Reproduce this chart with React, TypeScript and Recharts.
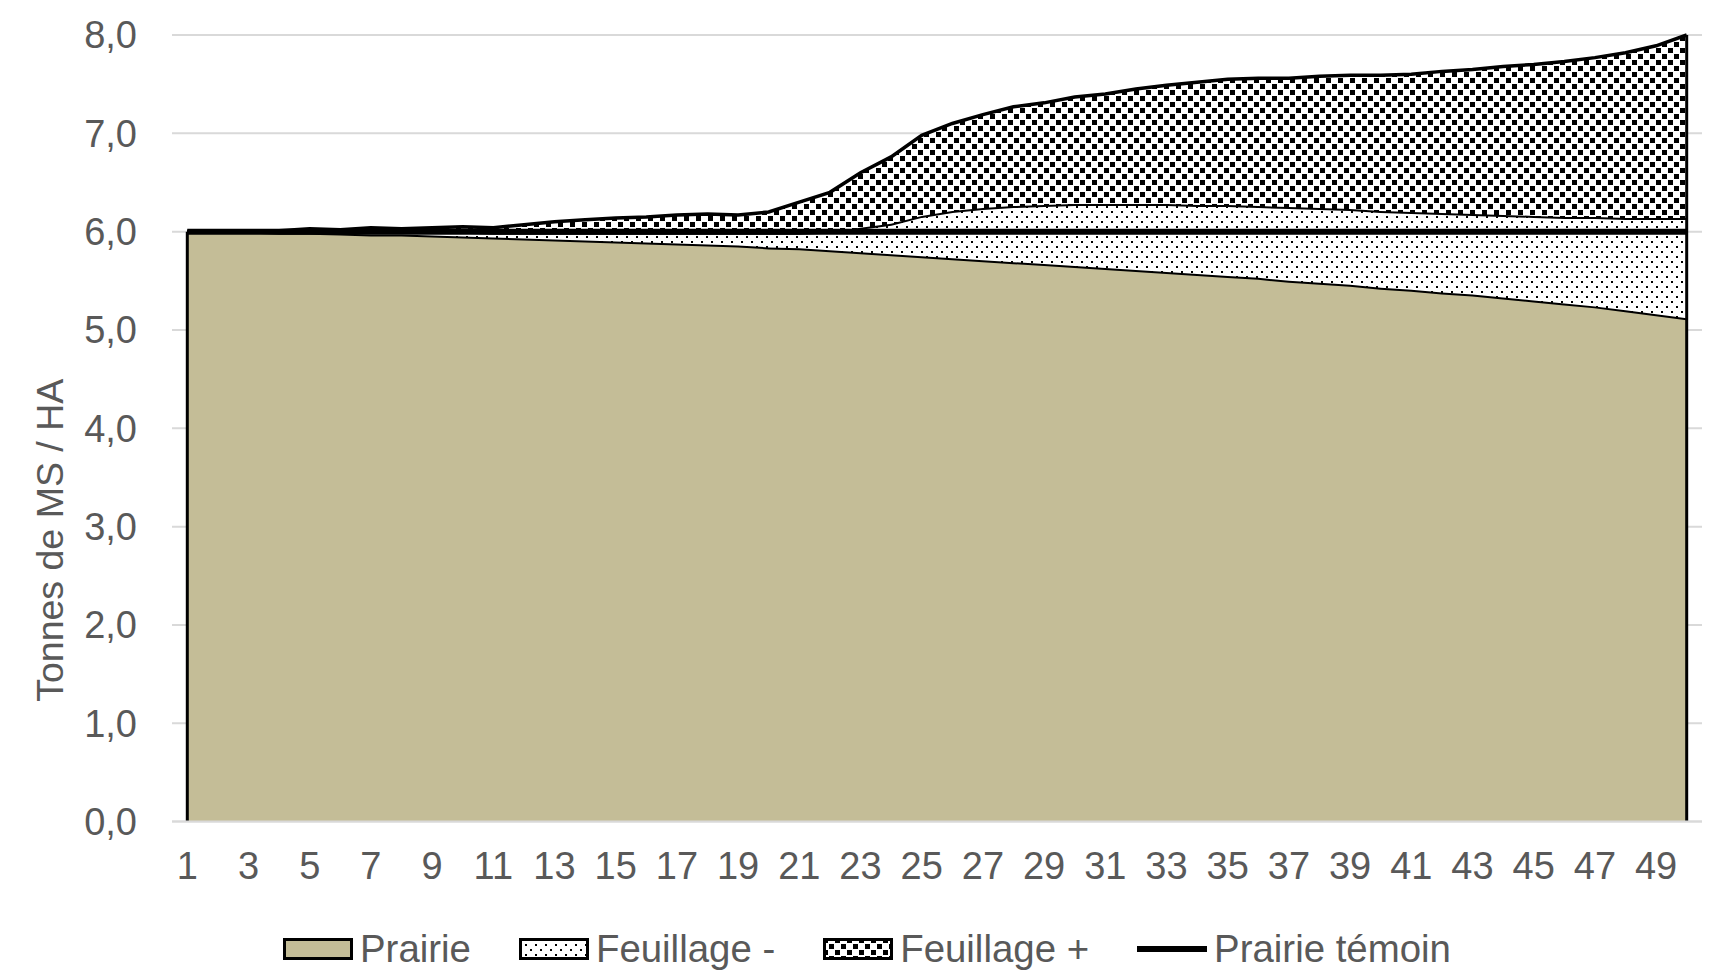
import React from 'react';
import {
    ComposedChart,
    Area,
    Line,
    XAxis,
    YAxis,
    CartesianGrid,
    ReferenceLine
} from 'recharts';

// Jours (catégories de l'axe X)
const jours = [
    1, 2, 3, 4, 5, 6, 7, 8, 9, 10,
    11, 12, 13, 14, 15, 16, 17, 18, 19, 20,
    21, 22, 23, 24, 25, 26, 27, 28, 29, 30,
    31, 32, 33, 34, 35, 36, 37, 38, 39, 40,
    41, 42, 43, 44, 45, 46, 47, 48, 49, 50
];

// Prairie (t MS / ha)
const prairie = [
    6.00, 6.00, 6.00, 5.99, 5.99, 5.98, 5.97, 5.97, 5.96, 5.95,
    5.94, 5.93, 5.92, 5.91, 5.90, 5.89, 5.88, 5.87, 5.86, 5.84,
    5.83, 5.81, 5.79, 5.77, 5.75, 5.73, 5.71, 5.69, 5.67, 5.65,
    5.63, 5.61, 5.59, 5.57, 5.55, 5.53, 5.50, 5.48, 5.46, 5.43,
    5.41, 5.38, 5.36, 5.33, 5.30, 5.27, 5.24, 5.20, 5.16, 5.12
];

// Haut de la couche "Feuillage -" (prairie + feuillage -)
const hautFeuillageMoins = [
    6.00, 6.00, 6.00, 6.00, 6.00, 6.00, 6.00, 6.00, 6.00, 6.00,
    5.99, 5.99, 5.99, 5.99, 5.99, 5.99, 5.99, 5.99, 5.99, 5.99,
    5.99, 6.00, 6.04, 6.08, 6.16, 6.21, 6.24, 6.26, 6.27, 6.28,
    6.28, 6.28, 6.28, 6.27, 6.27, 6.26, 6.25, 6.24, 6.23, 6.21,
    6.20, 6.19, 6.18, 6.17, 6.16, 6.15, 6.15, 6.14, 6.14, 6.14
];

// Haut de la couche "Feuillage +" (total)
const hautFeuillagePlus = [
    6.00, 6.00, 6.00, 6.01, 6.03, 6.02, 6.04, 6.03, 6.04, 6.05,
    6.04, 6.07, 6.10, 6.12, 6.14, 6.15, 6.17, 6.18, 6.17, 6.20,
    6.30, 6.40, 6.60, 6.76, 6.98, 7.10, 7.19, 7.27, 7.31, 7.37,
    7.40, 7.45, 7.49, 7.52, 7.55, 7.56, 7.56, 7.58, 7.59, 7.59,
    7.60, 7.63, 7.65, 7.68, 7.70, 7.73, 7.77, 7.82, 7.89, 8.00
];

// Prairie témoin
const prairieTemoin = [
    6.0, 6.0, 6.0, 6.0, 6.0, 6.0, 6.0, 6.0, 6.0, 6.0,
    6.0, 6.0, 6.0, 6.0, 6.0, 6.0, 6.0, 6.0, 6.0, 6.0,
    6.0, 6.0, 6.0, 6.0, 6.0, 6.0, 6.0, 6.0, 6.0, 6.0,
    6.0, 6.0, 6.0, 6.0, 6.0, 6.0, 6.0, 6.0, 6.0, 6.0,
    6.0, 6.0, 6.0, 6.0, 6.0, 6.0, 6.0, 6.0, 6.0, 6.0
];

const yTicks = [0, 1, 2, 3, 4, 5, 6, 7, 8];

const FONT = '"Liberation Sans", Arial, sans-serif';
const TEXT_COLOR = '#595959';
const TAN = '#C4BD97';

// stacked table: each layer = difference between its top and the one below
const data = jours.map((jour, i) => ({
    jour,
    prairie: prairie[i],
    feuillageMoins: +(hautFeuillageMoins[i] - prairie[i]).toFixed(2),
    feuillagePlus: +(hautFeuillagePlus[i] - hautFeuillageMoins[i]).toFixed(2),
    temoin: prairieTemoin[i]
}));

const legendItems = [
    { nom: 'Prairie', kind: 'prairie' },
    { nom: 'Feuillage -', kind: 'moins' },
    { nom: 'Feuillage +', kind: 'plus' },
    { nom: 'Prairie témoin', kind: 'ligne' }
];

function Patterns({ suffix }: { suffix: string }) {
    return (
        <defs>
            <pattern id={`fin-${suffix}`} width="10" height="10" patternUnits="userSpaceOnUse">
                <rect width="10" height="10" fill="#fff" />
                <rect x="1" y="1" width="2" height="2" fill="#000" />
                <rect x="6" y="6" width="2" height="2" fill="#000" />
            </pattern>
            <pattern id={`carre-${suffix}`} width="12" height="12" patternUnits="userSpaceOnUse">
                <rect width="12" height="12" fill="#fff" />
                <rect x="0" y="0" width="5" height="5" fill="#000" />
                <rect x="6" y="6" width="5" height="5" fill="#000" />
            </pattern>
        </defs>
    );
}

function Swatch({ kind }: { kind: string }) {
    if (kind === 'ligne') {
        return (
            <svg width="70" height="22">
                <line x1="0" y1="11" x2="70" y2="11" stroke="#000" strokeWidth={6} />
            </svg>
        );
    }
    const fill = kind === 'prairie' ? TAN : kind === 'moins' ? 'url(#fin-leg)' : 'url(#carre-leg)';
    return (
        <svg width="70" height="22">
            <Patterns suffix="leg" />
            <rect x="1.5" y="1.5" width="67" height="19" fill={fill} stroke="#000" strokeWidth={3} />
        </svg>
    );
}

const renderYTitle = (props: any) => {
    const vb = props.viewBox || { x: 0, y: 35, width: 172, height: 787 };
    const cx = vb.x + 50;
    const cy = vb.y + vb.height / 2 + 112;
    return (
        <text
            x={cx}
            y={cy}
            transform={`rotate(-90 ${cx} ${cy})`}
            textAnchor="middle"
            dominantBaseline="central"
            fill={TEXT_COLOR}
            fontSize={37.5}
            fontFamily={FONT}
        >
            Tonnes de MS / HA
        </text>
    );
};

export default function App() {
    const last = jours.length - 1;

    return (
        <div style={{ position: 'absolute', left: 0, top: 0, width: 1715, height: 972, overflow: 'hidden', background: '#fff', fontFamily: FONT }}>
            <ComposedChart
                width={1715}
                height={972}
                data={data}
                margin={{ top: 35, right: 13, left: 0, bottom: 90.4 }}
            >
                <Patterns suffix="chart" />
                <CartesianGrid vertical={false} stroke="#D9D9D9" strokeWidth={2} />
                <XAxis
                    dataKey="jour"
                    interval={1}
                    height={60}
                    padding={{ left: 15.3, right: 15.3 }}
                    tickLine={false}
                    tickSize={0}
                    tickMargin={30}
                    axisLine={{ stroke: '#D9D9D9', strokeWidth: 2 }}
                    tick={{ fill: TEXT_COLOR, fontSize: 38, fontFamily: FONT }}
                />
                <YAxis
                    width={172}
                    domain={[0, 8]}
                    ticks={yTicks}
                    axisLine={false}
                    tickLine={false}
                    tickSize={0}
                    tickMargin={35}
                    tickFormatter={(v: number) => v.toFixed(1).replace('.', ',')}
                    tick={{ fill: TEXT_COLOR, fontSize: 38, fontFamily: FONT }}
                    label={renderYTitle}
                />
                <Area
                    type="linear"
                    dataKey="prairie"
                    name="Prairie"
                    stackId="a"
                    fill={TAN}
                    fillOpacity={1}
                    stroke="#000"
                    strokeWidth={4}
                    isAnimationActive={false}
                />
                <Area
                    type="linear"
                    dataKey="feuillageMoins"
                    name="Feuillage -"
                    stackId="a"
                    fill="url(#fin-chart)"
                    fillOpacity={1}
                    stroke="#000"
                    strokeWidth={4}
                    isAnimationActive={false}
                />
                <Area
                    type="linear"
                    dataKey="feuillagePlus"
                    name="Feuillage +"
                    stackId="a"
                    fill="url(#carre-chart)"
                    fillOpacity={1}
                    stroke="#000"
                    strokeWidth={3.5}
                    isAnimationActive={false}
                />
                <ReferenceLine
                    segment={[{ x: jours[0], y: 0 }, { x: jours[0], y: hautFeuillagePlus[0] }]}
                    stroke="#000"
                    strokeWidth={3}
                    ifOverflow="visible"
                />
                <ReferenceLine
                    segment={[{ x: jours[last], y: 0 }, { x: jours[last], y: hautFeuillagePlus[last] }]}
                    stroke="#000"
                    strokeWidth={3}
                    ifOverflow="visible"
                />
                <Line
                    type="linear"
                    dataKey="temoin"
                    name="Prairie témoin"
                    stroke="#000"
                    strokeWidth={6}
                    dot={false}
                    activeDot={false}
                    isAnimationActive={false}
                />
            </ComposedChart>

            <div
                style={{
                    position: 'absolute',
                    left: 283,
                    top: 927,
                    height: 44,
                    display: 'flex',
                    alignItems: 'center',
                    gap: 48,
                    fontSize: 38.4,
                    lineHeight: '44px',
                    color: TEXT_COLOR,
                    whiteSpace: 'nowrap'
                }}
            >
                {legendItems.map(item => (
                    <div key={item.nom} style={{ display: 'flex', alignItems: 'center', gap: 7 }}>
                        <Swatch kind={item.kind} />
                        <span>{item.nom}</span>
                    </div>
                ))}
            </div>
        </div>
    );
}
